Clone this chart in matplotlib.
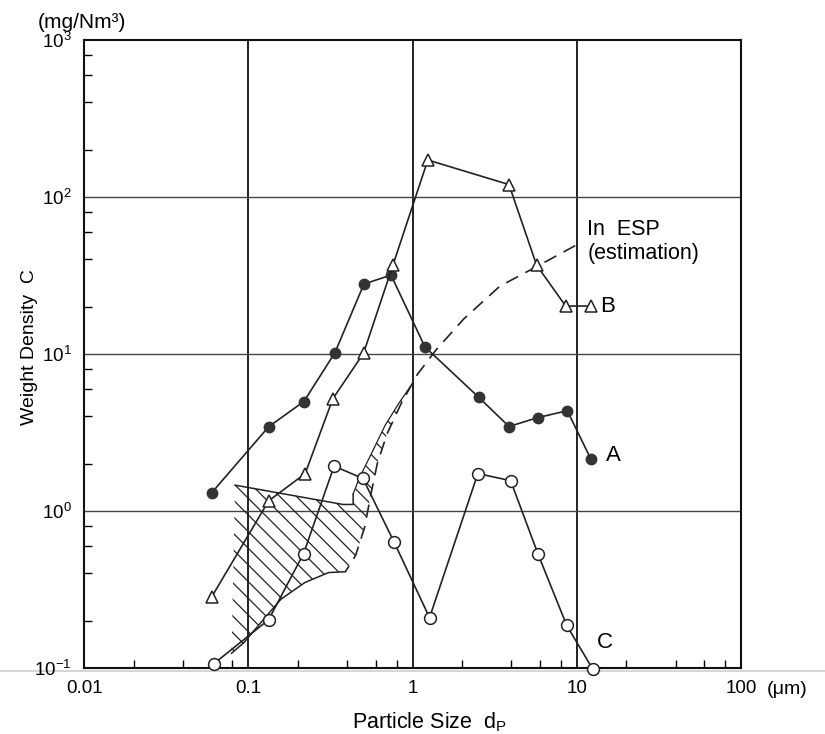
import matplotlib
matplotlib.use("Agg")
import matplotlib.pyplot as plt
from matplotlib.ticker import FixedLocator, LogLocator, NullFormatter
from matplotlib.lines import Line2D

plt.rcParams['font.family'] = ['Liberation Sans', 'DejaVu Sans']
plt.rcParams['mathtext.default'] = 'regular'
plt.rcParams['hatch.linewidth'] = 0.9

# curve A (filled circles)
a_x = [0.060, 0.133, 0.218, 0.337, 0.506, 0.74, 1.19, 2.53, 3.87, 5.78, 8.77, 12.2]
a_y = [1.31, 3.44, 4.98, 10.2, 27.9, 31.8, 11.1, 5.3, 3.45, 3.93, 4.35, 2.14]

# curve B (triangles)
b_x = [0.060, 0.133, 0.222, 0.327, 0.503, 0.76, 1.24, 3.87, 5.70, 8.57, 12.2]
b_y = [0.285, 1.16, 1.73, 5.18, 10.1, 36.8, 172, 120, 36.8, 20.2, 20.2]

# curve C (open circles)
c_x = [0.0614, 0.133, 0.217, 0.333, 0.499, 0.771, 1.27, 2.50, 3.96, 5.82, 8.69, 12.5]
c_y = [0.106, 0.203, 0.535, 1.93, 1.61, 0.636, 0.209, 1.73, 1.56, 0.530, 0.187, 0.0986]

# In ESP (estimation), dashed
esp_x = [9.8, 5.7, 3.4, 2.05, 1.39, 1.07, 0.85, 0.70, 0.61, 0.56, 0.51, 0.45, 0.39]
esp_y = [49, 36, 27, 16.7, 10.6, 7.4, 4.8, 3.1, 2.0, 1.3, 0.78, 0.52, 0.41]

# hatched range
top_x = [0.083, 0.377, 0.435, 0.435]
top_y = [1.46, 1.10, 1.10, 1.28]
band_x = [0.435, 0.475, 0.56, 0.68, 0.82, 0.97]
band_y = [1.28, 1.63, 2.3, 3.5, 4.8, 6.2]
low_x = [0.39, 0.308, 0.221, 0.158, 0.119, 0.094, 0.079]
low_y = [0.41, 0.405, 0.35, 0.274, 0.194, 0.145, 0.124]

xticks = [0.01, 0.1, 1, 10, 100]
xlabels = ['0.01', '0.1', '1', '10', '100']
yticks = [0.1, 1, 10, 100, 1000]
ylabels = ['$10^{-1}$', '$10^{0}$', '$10^{1}$', '$10^{2}$', '$10^{3}$']

fig = plt.figure(figsize=(8.25, 7.34), dpi=100)
ax = fig.add_axes([0.102, 0.090, 0.796, 0.8555])
ax.set_xscale('log')
ax.set_yscale('log')
ax.set_xlim(0.01, 100)
ax.set_ylim(0.1, 1000)

for v in [0.1, 1, 10]:
    ax.axvline(v, color='#111111', lw=1.3, zorder=1)
for v in [1, 10, 100]:
    ax.axhline(v, color='#444444', lw=1.0, zorder=1)

# hatched region
poly_x = top_x + band_x[1:] + esp_x[6:] + low_x[1:]
poly_y = top_y + band_y[1:] + esp_y[6:] + low_y[1:]
ax.fill(poly_x, poly_y, facecolor='none', edgecolor='#222222', hatch='\\\\', lw=0, zorder=2)
ax.plot(top_x, top_y, color='#222222', lw=1.1, zorder=3)
ax.plot(band_x, band_y, color='#222222', lw=0.9, zorder=3)
ax.plot(low_x, low_y, color='#222222', lw=1.1, zorder=3)
ax.plot(esp_x, esp_y, color='#222222', lw=1.2, ls=(0, (8, 5)), zorder=3)

ax.plot(a_x, a_y, color='#222222', lw=1.2, marker='o', ms=7.5,
        mfc='#333333', mec='#333333', zorder=4)
ax.plot(b_x, b_y, color='#222222', lw=1.2, marker='^', ms=9,
        mfc='white', mec='#222222', mew=1.1, zorder=4)
ax.plot(c_x, c_y, color='#222222', lw=1.2, marker='o', ms=8.5,
        mfc='white', mec='#222222', mew=1.1, zorder=4, clip_on=False)

ax.text(13.8, 20.2, 'B', fontsize=16, va='center', ha='left')
ax.text(15.0, 2.25, 'A', fontsize=16, va='center', ha='left')
ax.text(13.3, 0.145, 'C', fontsize=16, va='center', ha='left')
ax.text(11.6, 52, 'In  ESP\n(estimation)', fontsize=15.5, va='center', ha='left',
        linespacing=1.2)

ax.xaxis.set_major_locator(FixedLocator(xticks))
ax.set_xticklabels(xlabels, fontsize=13.5)
ax.yaxis.set_major_locator(FixedLocator(yticks))
ax.set_yticklabels(ylabels, fontsize=13.5)
ax.xaxis.set_minor_locator(LogLocator(base=10, subs=(2, 4, 6, 8), numticks=20))
ax.yaxis.set_minor_locator(LogLocator(base=10, subs=(2, 4, 6, 8), numticks=20))
ax.xaxis.set_minor_formatter(NullFormatter())
ax.yaxis.set_minor_formatter(NullFormatter())
ax.tick_params(which='major', length=0, pad=9)
ax.tick_params(which='minor', direction='in', length=6, width=1.0,
               top=False, right=False)
for s in ax.spines.values():
    s.set_linewidth(1.5)
    s.set_color('#111111')

fig.text(0.930, 0.060, '(\u03bcm)', fontsize=14, va='center', ha='left')
fig.text(0.099, 0.970, '(mg/Nm\u00b3)', fontsize=15, va='center', ha='center')
fig.text(0.036, 0.527, 'Weight Density  C', fontsize=14, rotation=90,
         va='center', ha='center')
fig.text(0.521, 0.016, 'Particle Size  d$_P$', fontsize=15.5, va='center', ha='center')

fig.add_artist(Line2D([0, 1], [0.086, 0.086], color='#d5d5d5', lw=1.5, zorder=0))

fig.savefig('out.png', dpi=100)
